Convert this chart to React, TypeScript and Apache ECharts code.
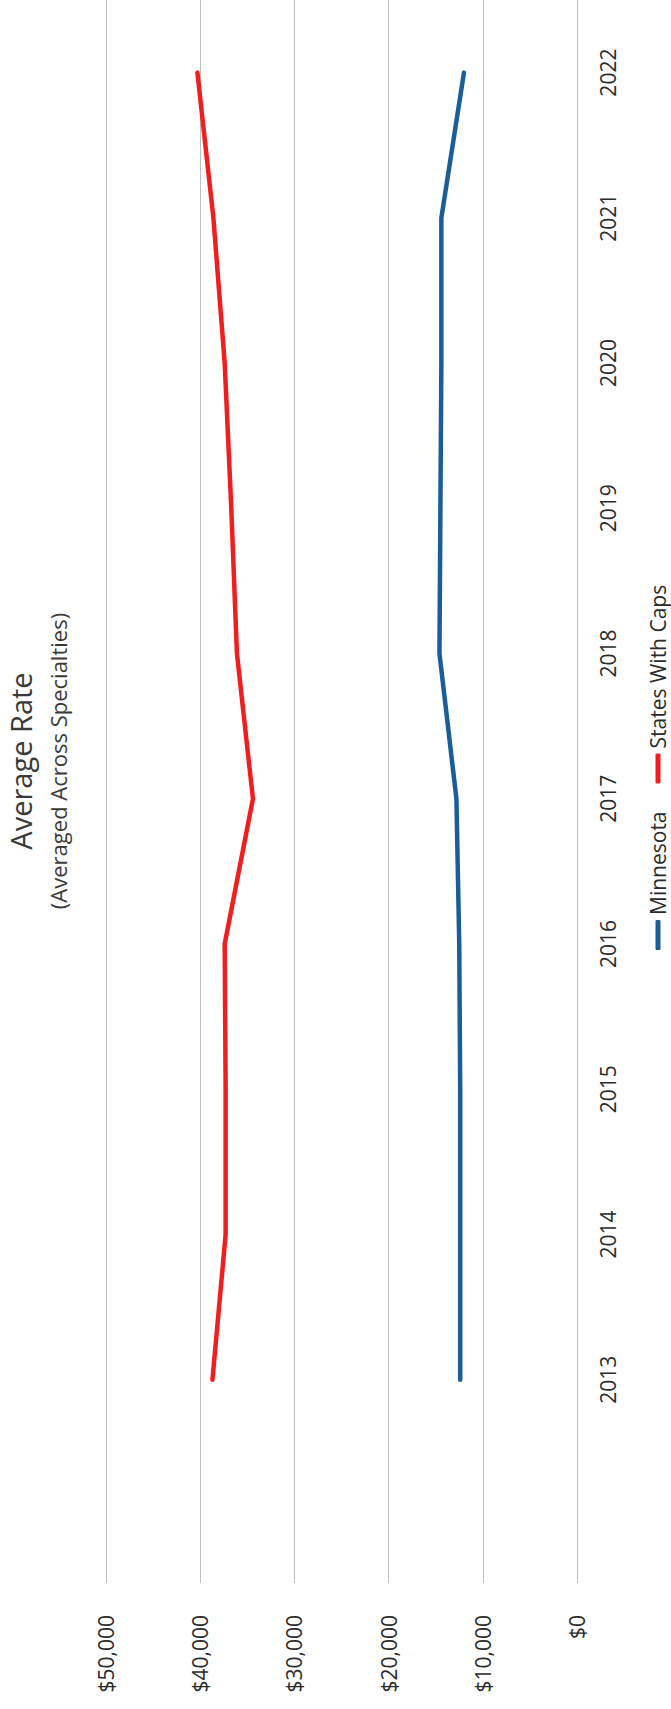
import React, { useEffect, useRef } from "react";
import * as echarts from "echarts";

const years = [2013, 2014, 2015, 2016, 2017, 2018, 2019, 2020, 2021, 2022];
const minnesota = [12400, 12400, 12400, 12500, 12800, 14600, 14500, 14400, 14400, 12000];
const statesWithCaps = [38700, 37300, 37300, 37400, 34400, 36100, 36700, 37400, 38600, 40300];
const seriesNames = ["Minnesota", "States With Caps"];
const titleText = "Average Rate";
const subtitleText = "(Averaged Across Specialties)";

const FONT = "'Open Sans', 'Noto Sans', sans-serif";
const TEXT = "#2b2b2b";

export default function App() {
  const ref = useRef<HTMLDivElement>(null);
  useEffect(() => {
    const chart = echarts.init(ref.current!, null, { renderer: "svg" });
    chart.setOption({
      animation: false,
      backgroundColor: "#ffffff",
      grid: { left: 126, right: 0, top: 106, bottom: 94 },
      graphic: [
        {
          type: "text",
          x: 948,
          y: 6,
          style: {
            text: titleText,
            fontSize: 29,
            fontFamily: FONT,
            fill: "#3a3a3a",
            align: "center",
            verticalAlign: "top",
            textAlign: "center",
            textVerticalAlign: "top",
          },
        },
        {
          type: "text",
          x: 948,
          y: 47,
          style: {
            text: subtitleText,
            fontSize: 22,
            fontFamily: FONT,
            fill: "#3a3a3a",
            align: "center",
            verticalAlign: "top",
            textAlign: "center",
            textVerticalAlign: "top",
          },
        },
      ],
      legend: {
        data: seriesNames,
        left: 754,
        top: 641,
        icon: "roundRect",
        itemWidth: 30,
        itemHeight: 5,
        itemGap: 28,
        textStyle: { fontSize: 21, lineHeight: 24, color: TEXT, fontFamily: FONT },
      },
      xAxis: {
        type: "value",
        min: 2011.6,
        max: 2022.5,
        axisLine: { show: false },
        axisTick: { show: false },
        splitLine: { show: false },
        axisLabel: {
          customValues: years,
          margin: 20,
          fontSize: 21,
          color: TEXT,
          fontFamily: FONT,
          formatter: (v: number) => (years.indexOf(v) >= 0 ? String(v) : ""),
        },
      },
      yAxis: {
        type: "value",
        min: 0,
        max: 50000,
        interval: 10000,
        axisLine: { show: false },
        axisTick: { show: false },
        splitLine: { lineStyle: { color: "#bfbfbf", width: 1 } },
        axisLabel: {
          margin: 32,
          fontSize: 21,
          color: TEXT,
          fontFamily: FONT,
          formatter: (v: number) => "$" + v.toLocaleString("en-US"),
        },
      },
      series: [
        {
          name: seriesNames[0],
          type: "line",
          data: years.map((y, i) => [y, minnesota[i]]),
          showSymbol: false,
          lineStyle: { color: "#1b5e97", width: 4.5, cap: "round", join: "round" },
          itemStyle: { color: "#1b5e97" },
        },
        {
          name: seriesNames[1],
          type: "line",
          data: years.map((y, i) => [y, statesWithCaps[i]]),
          showSymbol: false,
          lineStyle: { color: "#f01e1e", width: 4.5, cap: "round", join: "round" },
          itemStyle: { color: "#f01e1e" },
        },
      ],
    });
    return () => chart.dispose();
  }, []);
  return (
    <div
      style={{
        position: "absolute",
        left: 0,
        top: 0,
        width: 671,
        height: 1709,
        overflow: "hidden",
        background: "#ffffff",
      }}
    >
      <div
        ref={ref}
        style={{
          position: "absolute",
          left: 0,
          top: 1709,
          width: 1709,
          height: 671,
          transform: "rotate(-90deg)",
          transformOrigin: "0 0",
        }}
      />
    </div>
  );
}
